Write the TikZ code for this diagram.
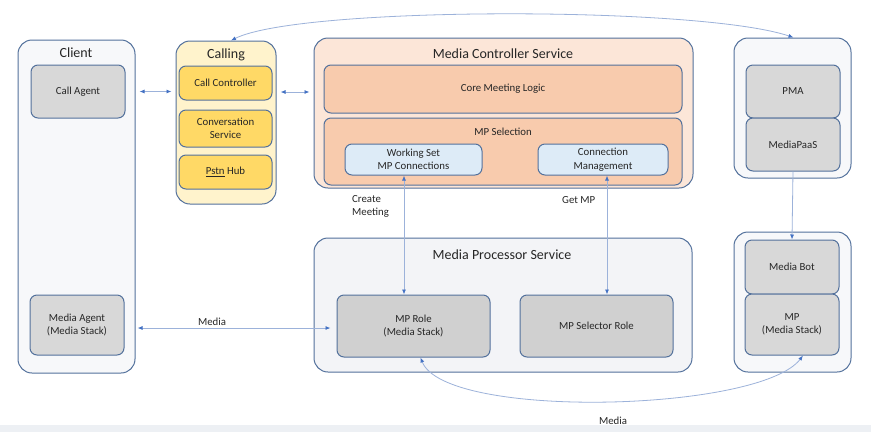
\documentclass[tikz,border=0pt]{standalone}
\usepackage{fontspec}
\setmainfont{Carlito}
\usetikzlibrary{arrows.meta,calc}
\definecolor{bordc}{HTML}{53719C}
\definecolor{clientfill}{HTML}{F7F8FA}
\definecolor{callingfill}{HTML}{FFF3CC}
\definecolor{goldfill}{HTML}{FFD966}
\definecolor{mcsfill}{HTML}{FCE6D8}
\definecolor{corefill}{HTML}{F8CBAD}
\definecolor{bluefill}{HTML}{DDEBF7}
\definecolor{grayfill}{HTML}{D8D8D8}
\definecolor{darkgray}{HTML}{D0D0D0}
\definecolor{mpsfill}{HTML}{F3F4F7}
\definecolor{arrc}{HTML}{4472C4}
\definecolor{linec}{HTML}{9CB2DA}
\definecolor{stripc}{HTML}{EDF0F4}
\definecolor{txtc}{HTML}{262626}
\tikzset{
  outerbox/.style={draw=bordc, line width=1pt, rounded corners=14pt, inner sep=0pt},
  innerbox/.style={draw=bordc, line width=1pt, rounded corners=7pt, inner sep=0pt, align=center, text=txtc, font=\fontsize{10.8}{13.5}\selectfont},
  titletext/.style={inner sep=0pt, text=txtc, font=\fontsize{14}{16}\selectfont},
  lbl/.style={inner sep=0pt, text=txtc, font=\fontsize{10.8}{13.5}\selectfont, align=left},
  conn/.style={draw=linec, line width=0.8pt},
  tipb/.style={-{Latex[length=5pt,width=4pt,color=arrc]}},
  tipboth/.style={{Latex[length=5pt,width=4pt,color=arrc]}-{Latex[length=5pt,width=4pt,color=arrc]}},
}
\begin{document}
\begin{tikzpicture}[x=1pt,y=-1pt]
\useasboundingbox (0,0) rectangle (871,432);
\fill[white] (0,0) rectangle (871,432);
\fill[stripc] (0,425) rectangle (871,432);

% Client
\node[outerbox, fill=clientfill, minimum width=117pt, minimum height=333pt] (client) at (76.5,206.5) {};
\node[titletext] (clientT) at (76,53) {Client};
\node[innerbox, fill=grayfill, minimum width=94pt, minimum height=53pt] (callagent) at (78,91.5) {Call Agent};
\node[innerbox, fill=grayfill, minimum width=94pt, minimum height=60pt] (mediaagent) at (77,325) {Media Agent\\(Media Stack)};

% Calling
\node[outerbox, fill=callingfill, minimum width=100pt, minimum height=163pt] (calling) at (226,122.5) {};
\node[titletext] (callingT) at (226,55) {Calling};
\node[innerbox, fill=goldfill, minimum width=93pt, minimum height=34pt] (cc) at (225.5,83) {Call Controller};
\node[innerbox, fill=goldfill, minimum width=93pt, minimum height=37pt] (cs) at (225.5,128.5) {Conversation\\Service};
\node[innerbox, fill=goldfill, minimum width=93pt, minimum height=34pt] (pstn) at (225.5,172) {\underline{Pstn} Hub};

% Media Controller Service
\node[outerbox, fill=mcsfill, minimum width=379pt, minimum height=150pt] (mcs) at (503.5,113) {};
\node[titletext] (mcsT) at (503,54) {Media Controller Service};
\node[innerbox, fill=corefill, minimum width=358pt, minimum height=48pt] (core) at (503,89) {Core Meeting Logic};
\node[innerbox, fill=corefill, minimum width=358pt, minimum height=67pt] (mpsel) at (503,151.5) {};
\node[lbl] (mpselT) at (503,131.5) {MP Selection};
\node[innerbox, fill=bluefill, minimum width=137pt, minimum height=31pt] (ws) at (413.5,159.5) {Working Set\\MP Connections};
\node[innerbox, fill=bluefill, minimum width=130pt, minimum height=31pt] (cm) at (603,159.5) {Connection\\Management};

% Media Processor Service
\node[outerbox, fill=mpsfill, minimum width=378pt, minimum height=134pt] (mps) at (503,305) {};
\node[titletext] (mpsT) at (502,255) {Media Processor Service};
\node[innerbox, fill=darkgray, minimum width=153pt, minimum height=62pt] (mprole) at (413.5,326) {MP Role\\(Media Stack)};
\node[innerbox, fill=darkgray, minimum width=153pt, minimum height=62pt] (mpsr) at (596.5,326) {MP Selector Role};

% Right top
\node[outerbox, fill=clientfill, minimum width=117pt, minimum height=140pt] (rtop) at (792.5,108) {};
\node[innerbox, fill=grayfill, minimum width=94pt, minimum height=53pt] (pma) at (793,91.5) {PMA};
\node[innerbox, fill=grayfill, minimum width=94pt, minimum height=53pt] (paas) at (793,144.5) {MediaPaaS};

% Right bottom
\node[outerbox, fill=clientfill, minimum width=117pt, minimum height=140pt] (rbot) at (792.5,302) {};
\node[innerbox, fill=grayfill, minimum width=94pt, minimum height=54pt] (mbot) at (792,267) {Media Bot};
\node[innerbox, fill=grayfill, minimum width=94pt, minimum height=61pt] (mp) at (792,324.5) {MP\\(Media Stack)};

% Connectors
\draw[conn, tipboth, shorten <=4pt, shorten >=4pt] (client.east |- callagent) -- (calling.west |- callagent);
\draw[conn, tipboth, shorten <=4pt, shorten >=4pt] (calling.east |- 0,92) -- (mcs.west |- 0,92);
\draw[conn, tipboth, shorten <=2pt, shorten >=6pt] (client.east |- 0,328) -- (mprole.west |- 0,328);
\draw[conn, tipboth] (ws.south -| 404,0) -- (mprole.north -| 404,0);
\draw[conn, tipboth] (cm.south -| 607,0) -- (mpsr.north -| 607,0);
\draw[conn, tipb] (paas.south) -- (mbot.north);
\draw[conn, tipboth] ([xshift=5pt]calling.north) .. controls (300,6) and (700,6) .. ([xshift=1pt]rtop.north);
\draw[conn, tipboth] ([xshift=7pt]mprole.south) .. controls (445,420) and (760,412) .. ([xshift=11pt]mp.south);

% Labels
\node[lbl, anchor=west] (lcm) at (352,206.5) {Create\\Meeting};
\node[lbl, anchor=west] (lgm) at (562,200) {Get MP};
\node[lbl] (lm1) at (212,322) {Media};
\node[lbl] (lm2) at (613,421) {Media};
\end{tikzpicture}
\end{document}
